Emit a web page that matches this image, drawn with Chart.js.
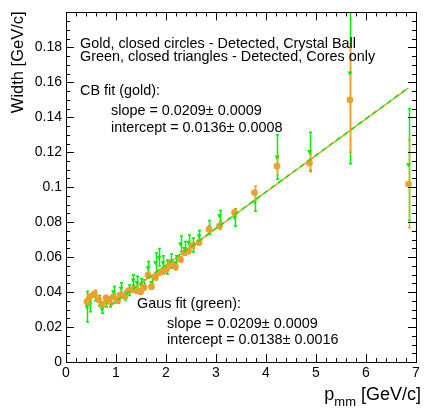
<!DOCTYPE html>
<html>
<head>
<meta charset="utf-8">
<script src="https://cdn.jsdelivr.net/npm/chart.js@4.4.1/dist/chart.umd.min.js"></script>
<style>
  html, body { margin: 0; padding: 0; background: #fff; }
  #wrap { width: 424px; height: 411px; }
</style>
</head>
<body>
<div id="wrap"><canvas id="c" width="424" height="411"></canvas></div>
<script>
// ── data ──
const momentum = [0.42,0.48,0.57,0.65,0.72,0.80,0.87,0.95,1.03,1.10,1.18,1.25,1.34,1.42,1.49,1.56,1.64,1.71,1.79,1.86,1.94,2.02,2.10,2.19,2.29,2.37,2.45,2.53,2.66,2.86,3.07,3.37,3.77,4.22,4.87,5.68,6.85];
const goldWidth = [0.0346,0.0374,0.0389,0.0357,0.0327,0.0366,0.0346,0.0374,0.0351,0.0385,0.0374,0.0408,0.0415,0.0408,0.0402,0.0427,0.0497,0.0431,0.0484,0.0512,0.0518,0.0536,0.0565,0.0544,0.0587,0.0625,0.0635,0.0667,0.0684,0.0759,0.0778,0.0855,0.0969,0.1120,0.1139,0.1500,0.1018];
const goldErr = [0.0020,0.0018,0.0018,0.0015,0.0018,0.0015,0.0015,0.0015,0.0015,0.0015,0.0015,0.0015,0.0015,0.0015,0.0015,0.0015,0.0018,0.0015,0.0015,0.0015,0.0015,0.0015,0.0015,0.0015,0.0015,0.0015,0.0015,0.0015,0.0015,0.0020,0.0020,0.0020,0.0038,0.0050,0.0050,0.0300,0.0250];
const greenWidth = [0.0317,0.0336,0.0380,0.0350,0.0304,0.0345,0.0342,0.0402,0.0365,0.0423,0.0380,0.0410,0.0469,0.0455,0.0446,0.0440,0.0540,0.0455,0.0568,0.0600,0.0568,0.0544,0.0578,0.0568,0.0676,0.0650,0.0686,0.0670,0.0723,0.0770,0.0837,0.0827,0.0918,0.1173,0.1205,0.1654,0.1129];
const greenErr = [0.0088,0.0048,0.0030,0.0030,0.0025,0.0030,0.0028,0.0030,0.0025,0.0030,0.0025,0.0030,0.0030,0.0035,0.0030,0.0030,0.0035,0.0030,0.0056,0.0050,0.0040,0.0040,0.0040,0.0040,0.0045,0.0040,0.0040,0.0040,0.0030,0.0040,0.0030,0.0050,0.0055,0.0127,0.0110,0.0520,0.0320];

// fit results as printed on the plot
const cbFit = { slope: 0.0209, intercept: 0.0136 };
const gausFit = { slope: 0.0209, intercept: 0.0138 };
const fitRange = [0.9, 6.85];

const xTicks = [0, 1, 2, 3, 4, 5, 6, 7];
const yTicks = [0, 0.02, 0.04, 0.06, 0.08, 0.1, 0.12, 0.14, 0.16, 0.18];

const GOLD = '#eaa12e';
const GREEN = '#00ee00';
const FONT = '"Liberation Sans", Arial, sans-serif';

const pts = (ys) => momentum.map((x, i) => ({ x, y: ys[i] }));
const fitLine = (f) => fitRange.map(x => ({ x, y: f.slope * x + f.intercept }));

const rootStyle = {
  id: 'rootStyle',
  beforeDatasetsDraw(chart) {
    const { ctx, chartArea: a, scales: { x, y } } = chart;
    ctx.save();
    ctx.beginPath(); ctx.rect(a.left, a.top, a.right - a.left, a.bottom - a.top); ctx.clip();
    const bars = (vals, errs, color, w) => {
      ctx.strokeStyle = color; ctx.lineWidth = w;
      momentum.forEach((p, i) => {
        const px = Math.round(x.getPixelForValue(p)) + 0.5;
        const y1 = y.getPixelForValue(vals[i] - errs[i]);
        const y2 = y.getPixelForValue(vals[i] + errs[i]);
        ctx.beginPath();
        ctx.moveTo(px, y1); ctx.lineTo(px, y2);
        ctx.moveTo(px - 1.5, y1); ctx.lineTo(px + 1.5, y1);
        ctx.moveTo(px - 1.5, y2); ctx.lineTo(px + 1.5, y2);
        ctx.stroke();
      });
    };
    bars(greenWidth, greenErr, GREEN, 1.5);
    bars(goldWidth, goldErr, GOLD, 1.5);
    ctx.restore();
  },
  afterDraw(chart) {
    const { ctx, chartArea: a, scales: { x, y } } = chart;
    ctx.save();
    ctx.strokeStyle = '#000'; ctx.lineWidth = 1;
    ctx.strokeRect(Math.round(a.left) + 0.5, Math.round(a.top) + 0.5, Math.round(a.right - a.left), Math.round(a.bottom - a.top));
    ctx.beginPath();
    // x ticks (bottom + top), minor every 0.2
    for (let v = 0; v <= 7.0001; v += 0.2) {
      const px = Math.round(x.getPixelForValue(v)) + 0.5;
      const len = Math.abs(v - Math.round(v)) < 1e-6 ? 8 : 4;
      ctx.moveTo(px, a.bottom); ctx.lineTo(px, a.bottom - len);
      ctx.moveTo(px, a.top); ctx.lineTo(px, a.top + len);
    }
    // y ticks (left + right), minor every 0.005
    for (let k = 0; k <= 40; k++) {
      const py = Math.round(y.getPixelForValue(k * 0.005)) + 0.5;
      const len = k % 4 === 0 ? 8 : 4;
      ctx.moveTo(a.left, py); ctx.lineTo(a.left + len, py);
      ctx.moveTo(a.right, py); ctx.lineTo(a.right - len, py);
    }
    ctx.stroke();

    // annotations
    ctx.fillStyle = '#000';
    ctx.textBaseline = 'middle';
    ctx.textAlign = 'left';
    ctx.font = '14.4px ' + FONT;
    ctx.fillText('Gold, closed circles - Detected, Crystal Ball', 80, 44);
    ctx.fillText('Green, closed triangles - Detected, Cores only', 80, 57);
    ctx.fillText('CB fit (gold):', 80, 91);
    ctx.fillText('slope = ' + cbFit.slope.toFixed(4) + '\u00b1 0.0009', 111, 111);
    ctx.fillText('intercept = ' + cbFit.intercept.toFixed(4) + '\u00b1 0.0008', 111, 128);
    ctx.fillText('Gaus fit (green):', 137, 304);
    ctx.fillText('slope = ' + gausFit.slope.toFixed(4) + '\u00b1 0.0009', 167, 324);
    ctx.fillText('intercept = ' + gausFit.intercept.toFixed(4) + '\u00b1 0.0016', 167, 340);

    // axis titles
    ctx.font = '16.5px ' + FONT;
    ctx.save();
    ctx.translate(18, a.top - 1);
    ctx.rotate(-Math.PI / 2);
    ctx.textAlign = 'right';
    ctx.fillText('Width [GeV/c]', 0, 0);
    ctx.restore();

    ctx.textBaseline = 'alphabetic';
    ctx.textAlign = 'left';
    const tail = ' [GeV/c]';
    ctx.font = '18px ' + FONT;
    const wTail = ctx.measureText(tail).width;
    const wP = ctx.measureText('p').width;
    ctx.font = '13px ' + FONT;
    const wSub = ctx.measureText('mm').width;
    let xr = 421 - wTail - wSub - wP;
    ctx.font = '18px ' + FONT;
    ctx.fillText('p', xr, 400);
    ctx.font = '13px ' + FONT;
    ctx.fillText('mm', xr + wP, 406);
    ctx.font = '18px ' + FONT;
    ctx.fillText(tail, xr + wP + wSub, 400);
    ctx.restore();
  }
};

new Chart(document.getElementById('c'), {
  type: 'scatter',
  data: {
    datasets: [
      { type: 'line', data: fitLine(gausFit), borderColor: GREEN, borderWidth: 1.5, borderDash: [5, 4], pointRadius: 0, fill: false },
      { type: 'line', data: fitLine(cbFit), borderColor: GOLD, borderWidth: 1.5, pointRadius: 0, fill: false },
      { data: pts(goldWidth), backgroundColor: GOLD, borderColor: GOLD, pointStyle: 'circle', pointRadius: 3.4, borderWidth: 0 },
      { data: pts(greenWidth), backgroundColor: GREEN, borderColor: GREEN, pointStyle: 'triangle', rotation: 180, pointRadius: 2.8, borderWidth: 0 }
    ]
  },
  options: {
    responsive: false,
    animation: false,
    events: [],
    layout: { padding: { top: 9, right: 8, left: 0, bottom: 0 } },
    plugins: { legend: { display: false }, tooltip: { enabled: false } },
    scales: {
      x: {
        type: 'linear', min: 0, max: 7,
        grid: { display: false, drawTicks: false }, border: { display: false },
        afterFit: s => { s.height = 49; },
        afterBuildTicks: s => { s.ticks = xTicks.map(v => ({ value: v })); },
        ticks: { color: '#000', font: { family: FONT, size: 14 }, padding: 3, maxRotation: 0, callback: v => String(v) }
      },
      y: {
        type: 'linear', min: 0, max: 0.2,
        grid: { display: false, drawTicks: false }, border: { display: false },
        afterFit: s => { s.width = 66; },
        afterBuildTicks: s => { s.ticks = yTicks.map(v => ({ value: v })); },
        ticks: { color: '#000', font: { family: FONT, size: 14 }, padding: 4, callback: v => String(+v.toFixed(2)) }
      }
    }
  },
  plugins: [rootStyle]
});
</script>
</body>
</html>
